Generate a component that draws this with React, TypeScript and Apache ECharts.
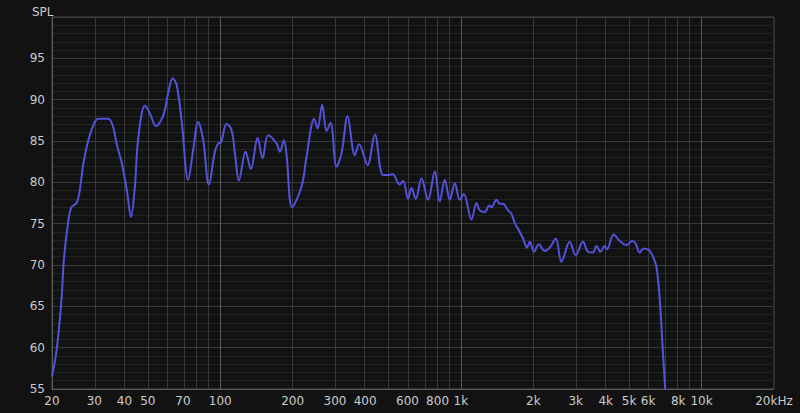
import React, { useEffect, useRef } from "react";
import * as echarts from "echarts";

const freqs = [
  20, 20.9, 21.9, 22.4, 23.4, 24.1, 25.3, 26.1, 27.0, 28.3, 29.7, 31.1, 34.3, 35.9, 37.1, 39.0,
  40.9, 42.6, 44.2, 45.7, 48.7, 51.1, 54.1, 58.0, 60.8, 63.4, 65.9, 69.1, 73.6, 77.2, 81.0,
  85.0, 89.7, 95.0, 98.1, 100.7, 106.3, 111.5, 115.1, 119.6, 127.5, 134.1, 143.0, 150.0,
  158.2, 171.5, 177.0, 183.9, 188.7, 199.0, 217.8, 228.4, 245.7, 253.8, 265.2, 276.6, 287.4,
  304.4, 319.2, 338.1, 362.5, 377.7, 409.4, 439.0, 475.1, 506.5, 519.8, 557.4, 575.3, 603.4,
  623.4, 649.5, 685.9, 730.5, 779.1, 817.2, 857.2, 899.1, 943.2, 989.3, 1028, 1107, 1161,
  1198, 1257, 1310, 1340, 1406, 1451, 1497, 1570, 1622, 1674, 1756, 1813, 1883, 1932, 2013,
  2106, 2230, 2340, 2478, 2617, 2833, 3000, 3216, 3374, 3540, 3656, 3798, 3958, 4046, 4316,
  4570, 4872, 5158, 5324, 5532, 5746, 6046, 6246, 6490, 6698, 6892, 7060, 7162,
];

const spl = [
  56.5, 59.7, 65.8, 70.6, 75.4, 77.0, 77.5, 79.1, 82.3, 85.1, 86.9, 87.7, 87.7, 86.7, 84.7, 82.3,
  79.1, 75.8, 79.5, 85.5, 89.3, 88.3, 86.8, 88.1, 90.8, 92.6, 91.8, 87.5, 80.3, 83.9, 87.3,
  85.1, 79.7, 83.7, 84.7, 84.8, 87.1, 86.3, 83.5, 80.2, 83.7, 81.6, 85.4, 82.9,
  85.7, 84.7, 83.7, 85.1, 83.3, 77.0, 79.5, 83.1, 87.7, 86.5, 89.4, 86.2, 87.2,
  81.9, 83.5, 88.0, 83.3, 84.6, 82.1, 85.8, 80.9, 80.9, 81.0, 79.7, 80.2, 78.0,
  79.3, 78.0, 80.5, 77.9, 81.3, 77.7, 80.3, 77.9, 79.9, 77.9, 78.6, 75.5, 77.5,
  76.6, 76.4, 77.2, 77.0, 77.9, 77.4, 77.4, 76.6, 76.2, 75.1, 74.0, 73.2, 72.1, 72.8, 71.6,
  72.5, 71.7, 72.1, 73.2, 70.4, 72.8, 71.2, 72.8, 71.6, 71.5, 72.3, 71.6, 72.3, 71.9, 73.7,
  72.9, 72.4, 72.9, 72.6, 71.5, 72.0, 71.8, 71.2, 69.8, 66.0, 60.0, 55.0, 52.0,
];

const labelFreqs = [20, 30, 40, 50, 70, 100, 200, 300, 400, 600, 800, 1000, 2000, 3000, 4000, 5000, 6000, 8000, 10000, 20000];
const gridFreqs = [
  30, 40, 50, 60, 70, 80, 90, 200, 300, 400, 500, 600, 700, 800, 900,
  2000, 3000, 4000, 5000, 6000, 7000, 8000, 9000,
];
const brightFreqs = [100, 1000, 10000];

const FONT = "DejaVu Sans";

function fmtFreq(v: number): string {
  const f = Math.round(Math.pow(10, v));
  if (f >= 20000) return "20kHz";
  if (f >= 1000) return f / 1000 + "k";
  return String(f);
}

export default function App() {
  const ref = useRef<HTMLDivElement>(null);
  useEffect(() => {
    if (!ref.current) return;
    const chart = echarts.init(ref.current, null, { renderer: "svg" });
    const data = freqs.map((f, i) => [Math.log10(f), spl[i]]);
    chart.setOption({
      animation: false,
      backgroundColor: "#121212",
      title: {
        text: "SPL",
        left: 27,
        top: 1,
        textStyle: { color: "#cccccc", fontSize: 12, fontWeight: "normal", fontFamily: FONT },
      },
      grid: {
        left: 52,
        right: 26,
        top: 17,
        bottom: 24,
        show: true,
        backgroundColor: "transparent",
        borderColor: "#4a4a4a",
        borderWidth: 1,
      },
      xAxis: {
        type: "value",
        min: Math.log10(20),
        max: Math.log10(20000),
        axisLine: { show: true, lineStyle: { color: "#5a5a5a", width: 1 } },
        axisTick: { show: false },
        splitLine: { show: false },
        axisLabel: {
          customValues: labelFreqs.map((f) => Math.log10(f)),
          formatter: (v: number) => fmtFreq(v),
          color: "#cccccc",
          fontSize: 12,
          fontFamily: FONT,
          margin: 6,
          hideOverlap: false,
        },
      },
      yAxis: {
        type: "value",
        min: 55,
        max: 100,
        interval: 5,
        axisLine: { show: true, lineStyle: { color: "#5a5a5a", width: 1 } },
        axisTick: { show: false },
        minorTick: { show: false, splitNumber: 5 },
        splitLine: { show: true, lineStyle: { color: "#3a3a3a", width: 1 } },
        minorSplitLine: { show: true, lineStyle: { color: "#242424", width: 1 } },
        axisLabel: {
          formatter: (v: number) => (v >= 100 ? "" : String(v)),
          color: "#cccccc",
          fontSize: 12,
          fontFamily: FONT,
          margin: 7,
        },
      },
      series: [
        {
          type: "line",
          z: 1,
          data: [],
          silent: true,
          markLine: {
            silent: true,
            symbol: "none",
            label: { show: false },
            animation: false,
            data: [
              ...gridFreqs.map((f) => ({
                xAxis: Math.log10(f),
                lineStyle: { color: "#393939", width: 1, type: "solid" },
              })),
              ...brightFreqs.map((f) => ({
                xAxis: Math.log10(f),
                lineStyle: { color: "#5c5c5c", width: 1, type: "solid" },
              })),
            ],
          },
        },
        {
          type: "line",
          z: 5,
          data,
          smooth: 0.35,
          showSymbol: false,
          clip: true,
          lineStyle: { color: "#5252dc", width: 2 },
        },
      ],
    });
    return () => chart.dispose();
  }, []);
  return <div ref={ref} style={{ width: 800, height: 413, position: "absolute", left: 0, top: 0 }} />;
}
